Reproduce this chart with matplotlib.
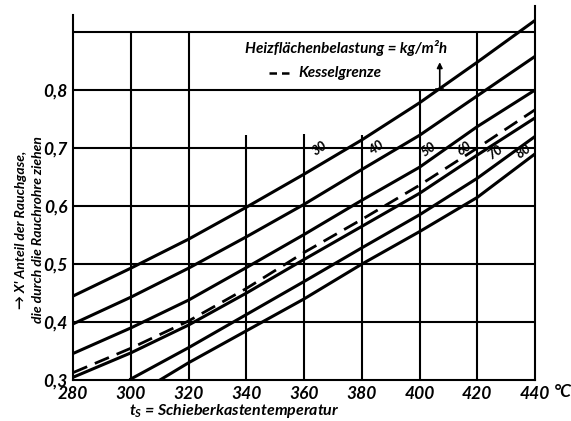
import matplotlib
matplotlib.use("Agg")
import matplotlib.pyplot as plt
import numpy as np

plt.rcParams['font.family'] = ['Lato', 'DejaVu Sans']
plt.rcParams['font.style'] = 'italic'
plt.rcParams['font.weight'] = 'bold'
plt.rcParams['mathtext.fontset'] = 'custom'
plt.rcParams['mathtext.it'] = 'Lato:italic:bold'
plt.rcParams['mathtext.rm'] = 'Lato:italic:bold'

# Schieberkastentemperatur, degC
temps = [280, 300, 320, 340, 360, 380, 400, 420, 440]

# Heizflaechenbelastung kg/m2h -> Anteil X
load_labels = ["30", "40", "50", "60", "70", "80"]
x_30 = [0.445, 0.493, 0.543, 0.598, 0.655, 0.714, 0.778, 0.848, 0.920]
x_40 = [0.397, 0.443, 0.493, 0.547, 0.603, 0.663, 0.722, 0.790, 0.858]
x_50 = [0.346, 0.390, 0.438, 0.494, 0.551, 0.610, 0.667, 0.737, 0.800]
x_60 = [0.305, 0.347, 0.395, 0.450, 0.508, 0.565, 0.622, 0.688, 0.752]
temps_70 = [300, 320, 340, 360, 380, 400, 420, 440]
x_70 = [0.302, 0.356, 0.413, 0.470, 0.528, 0.585, 0.648, 0.720]
temps_80 = [310, 320, 340, 360, 380, 400, 420, 440]
x_80 = [0.300, 0.330, 0.385, 0.440, 0.500, 0.556, 0.615, 0.690]
# Kesselgrenze
x_kessel = [0.313, 0.355, 0.402, 0.458, 0.520, 0.577, 0.636, 0.700, 0.766]

# label spots for the curve numbers
label_t = [365.5, 385.0, 403.0, 415.5, 426.0, 436.0]
label_x = [0.700, 0.702, 0.698, 0.700, 0.692, 0.695]

fig = plt.figure(figsize=(5.71, 4.21), dpi=100)
ax = fig.add_axes([0.128, 0.097, 0.809, 0.889])
ax.set_xlim(280, 440)
ax.set_ylim(0.3, 0.945)

lw_grid = 1.5
# vertical grid lines (some stop below the legend)
vtops = {300: 0.9, 320: 0.9, 340: 0.722, 360: 0.725, 380: 0.722, 400: 0.8, 420: 0.9}
for t, top in vtops.items():
    ax.plot([t, t], [0.3, top], color='k', lw=lw_grid, solid_capstyle='butt')
for v in [0.4, 0.5, 0.6, 0.7, 0.8, 0.9]:
    ax.plot([280, 440], [v, v], color='k', lw=lw_grid, solid_capstyle='butt')

ax.spines['top'].set_visible(False)
ax.spines['left'].set_bounds(0.3, 0.93)
for s in ['left', 'right', 'bottom']:
    ax.spines[s].set_linewidth(lw_grid)

curves = [(temps, x_30), (temps, x_40), (temps, x_50), (temps, x_60),
          (temps_70, x_70), (temps_80, x_80)]
for (tt, xx) in curves:
    ax.plot(tt, xx, color='k', lw=2.2)
ax.plot(temps, x_kessel, color='k', lw=2.0, dashes=(5.5, 3))

for lab, t, v in zip(load_labels, label_t, label_x):
    ax.text(t, v, lab, fontsize=9.5, rotation=35, ha='center', va='center',
            rotation_mode='anchor')

ax.set_xticks(temps)
ax.set_xticklabels([str(t) for t in temps], fontsize=12.5)
ax.set_yticks([0.3, 0.4, 0.5, 0.6, 0.7, 0.8])
ax.set_yticklabels(["0,3", "0,4", "0,5", "0,6", "0,7", "0,8"], fontsize=12.5)
ax.tick_params(length=0, pad=4)

fig.text(0.985, 0.068, "°C", fontsize=12.5, ha='center', va='center')
fig.text(0.41, 0.024, "$t_S$ = Schieberkastentemperatur", fontsize=11.5,
         ha='center', va='center')
fig.text(0.036, 0.455, "→ X' Anteil der Rauchgase,", fontsize=10,
         rotation=90, ha='center', va='center')
fig.text(0.066, 0.455, "die durch die Rauchrohre ziehen", fontsize=10,
         rotation=90, ha='center', va='center')

# legend block
ax.text(339.5, 0.872, "Heizflächenbelastung = kg/m²h", fontsize=11,
        ha='left', va='center')
ax.plot([348, 356], [0.83, 0.83], color='k', lw=1.8, dashes=(3, 2))
ax.text(358, 0.83, "Kesselgrenze", fontsize=11, ha='left', va='center')
ax.annotate("", xy=(407, 0.848), xytext=(407, 0.8),
            arrowprops=dict(arrowstyle='-|>', color='k', lw=1.2,
                            mutation_scale=8, shrinkA=0, shrinkB=0))
ax.plot([405.8, 408.2], [0.802, 0.802], color='k', lw=1.2)

fig.savefig("out.png", dpi=100)
